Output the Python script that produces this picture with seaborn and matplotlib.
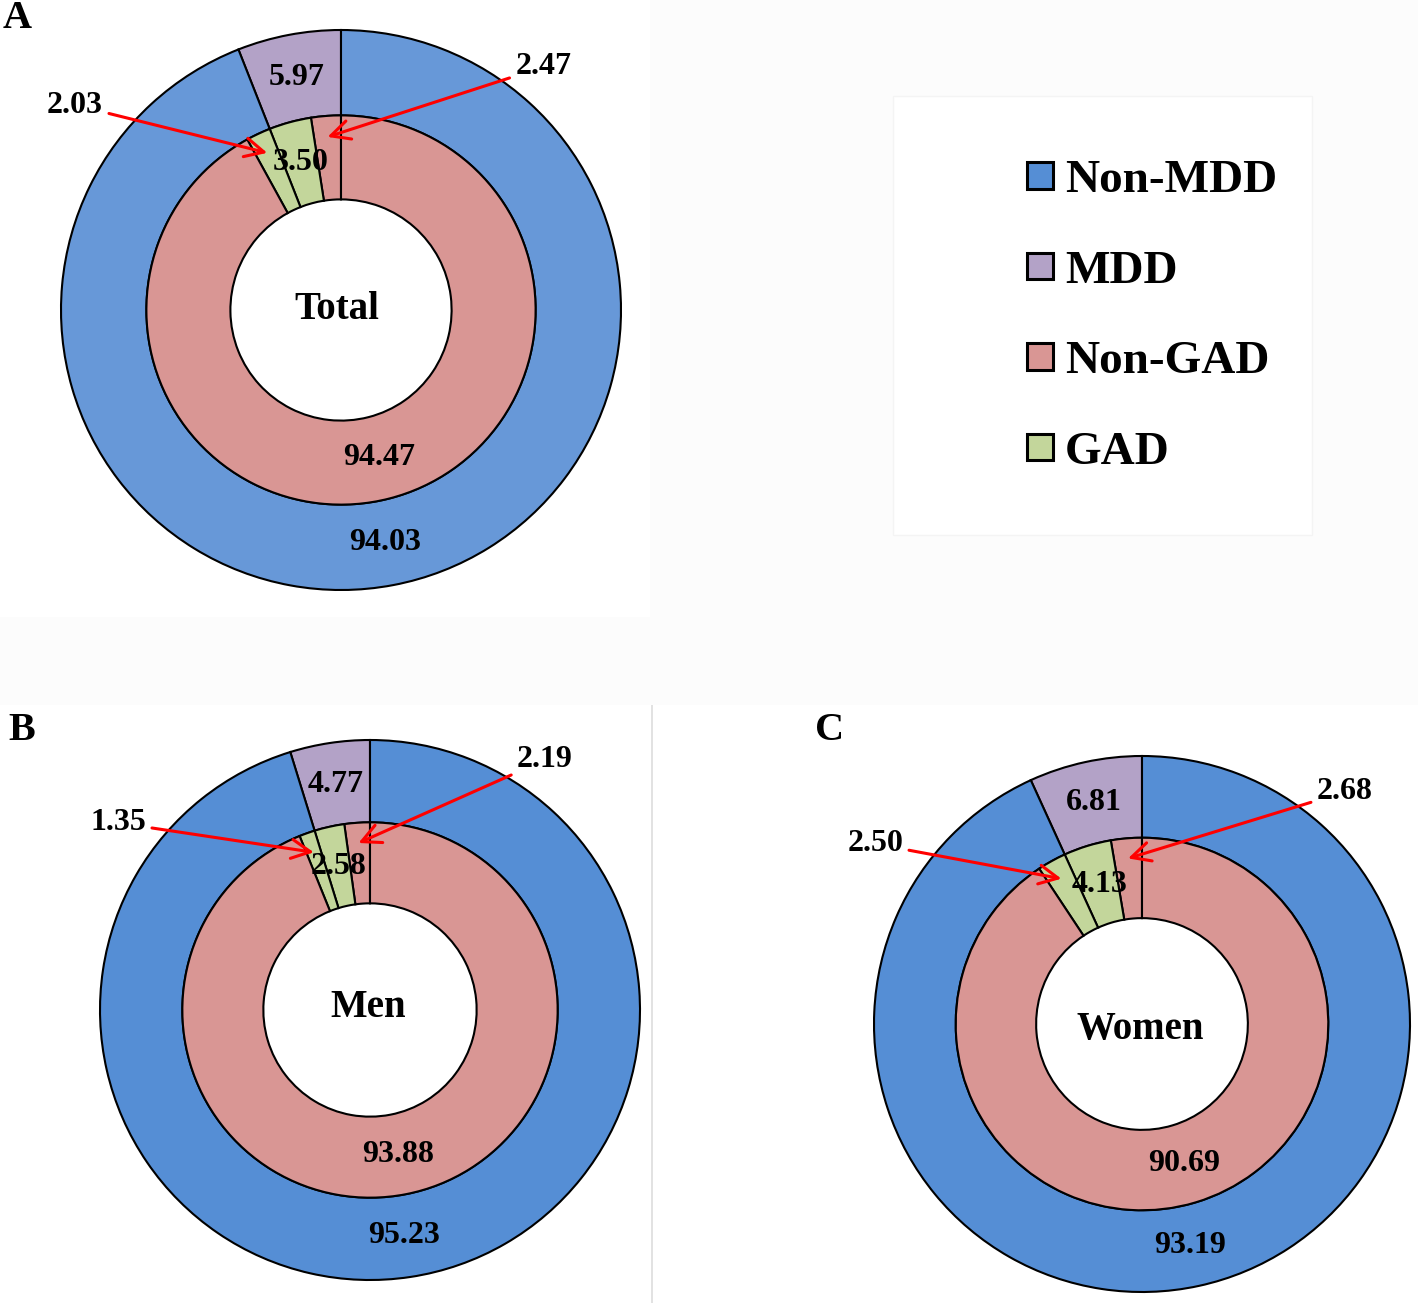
import matplotlib
matplotlib.use("Agg")
import matplotlib.pyplot as plt
import numpy as np
import seaborn as sns
from matplotlib.patches import Patch, Rectangle
from matplotlib.lines import Line2D

# ---------------- data ----------------
groups = ["Total", "Men", "Women"]
panel_letters = ["A", "B", "C"]
mdd = [5.97, 4.77, 6.81]
non_mdd = [94.03, 95.23, 93.19]
mdd_non_gad = [2.47, 2.19, 2.68]
mdd_gad = [3.50, 2.58, 4.13]
non_mdd_gad = [2.03, 1.35, 2.50]
non_gad_label = [94.47, 93.88, 90.69]
legend_labels = ["Non-MDD", "MDD", "Non-GAD", "GAD"]

# ---------------- style ----------------
sns.set_theme(style="white")
plt.rcParams["font.family"] = ["Liberation Serif", "DejaVu Serif"]
plt.rcParams["font.weight"] = "bold"
plt.rcParams["text.color"] = "black"

W, H = 1418, 1303
DPI = 100
fig = plt.figure(figsize=(W / DPI, H / DPI), dpi=DPI)
fig.patch.set_facecolor("white")

purple, pink, green = "#B3A2C7", "#D99694", "#C3D69B"
blues = ["#6798D8", "#558ED5", "#558ED5"]

# layout (pixels)
centers = [(341, 310), (370, 1010), (1142, 1024)]
radii = [280, 270, 268]
left_callout = [(-0.95, 0.732), (-0.933, 0.693), (-0.996, 0.672)]
right_callout = [(0.723, 0.868), (0.648, 0.926), (0.757, 0.866)]
center_offsets = [(-0.014, 0.0), (-0.007, 0.01), (-0.007, -0.02)]
letter_pos = [(17, 19), (22, 731), (830, 731)]


def px_rect(x0, y0, x1, y1, **kw):
    return Rectangle((x0 / W, 1 - y1 / H), (x1 - x0) / W, (y1 - y0) / H,
                     transform=fig.transFigure, **kw)


# subtle panel backgrounds
bg = "#FCFCFC"
fig.patches.append(px_rect(650, 0, W, 705, facecolor=bg, edgecolor="none", zorder=0))
fig.patches.append(px_rect(0, 617, 650, 705, facecolor=bg, edgecolor="none", zorder=0))
fig.patches.append(px_rect(893, 96, 1312, 535, facecolor="white", edgecolor="#F4F4F4", lw=1, zorder=0))
fig.lines.append(Line2D([652 / W, 652 / W], [0, 1 - 705 / H], transform=fig.transFigure,
                        color="#DDDDDD", lw=1.2, zorder=0))


def polar(theta_deg, r):
    t = np.deg2rad(90 + theta_deg)
    return r * np.cos(t), r * np.sin(t)


NUM_FS = 23
for i in range(3):
    cx, cy = centers[i]
    R = radii[i]
    ax = fig.add_axes([(cx - R) / W, 1 - (cy + R) / H, 2 * R / W, 2 * R / H])
    outer_vals = np.array([mdd[i], non_mdd[i]])
    inner_vals = np.array([mdd_non_gad[i], mdd_gad[i], non_mdd_gad[i],
                           non_mdd[i] - non_mdd_gad[i]])
    wp = dict(edgecolor="black", linewidth=1.5)
    ax.pie(outer_vals, radius=1.0, colors=[purple, blues[i]], startangle=90,
           counterclock=True, wedgeprops=dict(width=0.305, **wp))
    ax.pie(inner_vals, radius=0.695, colors=[pink, green, green, pink], startangle=90,
           counterclock=True, wedgeprops=dict(width=0.30, **wp))
    ax.set_xlim(-1, 1)
    ax.set_ylim(-1, 1)
    ax.set_aspect("equal")
    ax.axis("off")

    oc = np.cumsum(outer_vals)
    omid = (oc - outer_vals / 2) * 3.6
    ic = np.cumsum(inner_vals)
    imid = (ic - inner_vals / 2) * 3.6

    kw = dict(ha="center", va="center", fontsize=NUM_FS, fontweight="bold", color="black")
    ax.text(*polar(omid[0], 0.845), f"{mdd[i]:.2f}", **kw)
    ax.text(*polar(omid[1], 0.845), f"{non_mdd[i]:.2f}", **kw)
    ax.text(*polar(imid[1], 0.545), f"{mdd_gad[i]:.2f}", **kw)
    ax.text(*polar(imid[3], 0.545), f"{non_gad_label[i]:.2f}", **kw)
    ax.text(*center_offsets[i], groups[i], ha="center", va="center", fontsize=28,
            fontweight="bold", color="black")

    ap = dict(arrowstyle="->", color="red", lw=2.2, mutation_scale=34, shrinkA=2, shrinkB=0)
    ax.annotate(f"{mdd_non_gad[i]:.2f}", xy=polar(imid[0], 0.62), xytext=right_callout[i],
                arrowprops=ap, annotation_clip=False, **kw)
    ax.annotate(f"{non_mdd_gad[i]:.2f}", xy=polar(imid[2], 0.62), xytext=left_callout[i],
                arrowprops=ap, annotation_clip=False, **kw)

    lx, ly = letter_pos[i]
    fig.text(lx / W, 1 - ly / H, panel_letters[i], ha="center", va="center",
             fontsize=29, fontweight="bold", color="black")

handles = [Patch(facecolor=c, edgecolor="black", linewidth=2.2)
           for c in ["#558ED5", purple, pink, green]]
leg = fig.legend(handles, legend_labels, loc="upper left",
                 bbox_to_anchor=(1027 / W, 1 - 160 / H), frameon=False,
                 prop=dict(family=["Liberation Serif"], weight="bold", size=34),
                 handlelength=0.55, handleheight=0.49, handletextpad=0.25,
                 labelspacing=1.03, borderpad=0, borderaxespad=0)
for t in leg.get_texts():
    t.set_color("black")

fig.savefig("out.png", dpi=DPI)
